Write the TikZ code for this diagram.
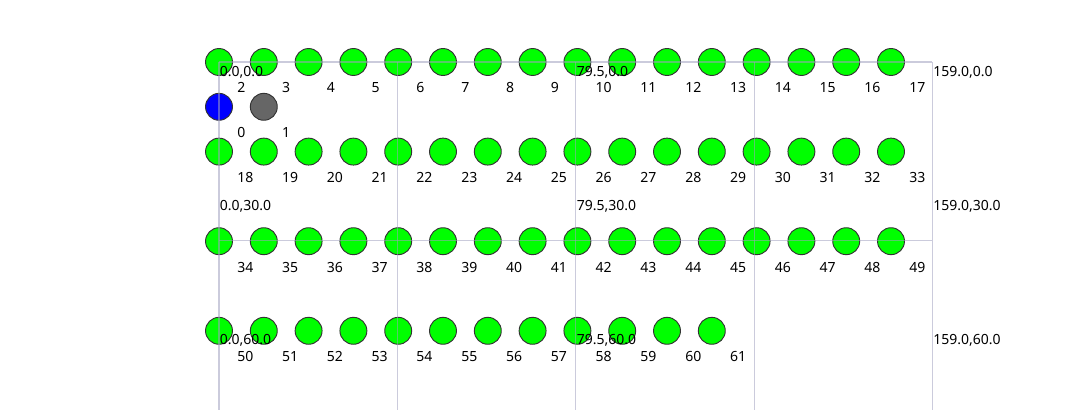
\documentclass[tikz,border=0pt]{standalone}
\usepackage{fontspec}
\setmainfont{Noto Sans}
\definecolor{gridink}{HTML}{A0A0C0}
\definecolor{slotgreen}{HTML}{00FF00}
\definecolor{slotblue}{HTML}{0000FF}
\definecolor{slotgrey}{HTML}{666666}
\definecolor{rim}{HTML}{333333}

\begin{document}
\begin{tikzpicture}[x=0.75pt,y=-0.75pt,font=\fontsize{10.5}{12}\selectfont,
  slot/.style={circle,draw=rim,line width=0.7pt,fill=slotgreen,
    minimum size=20.2pt,inner sep=0pt},
  idx/.style={anchor=base west,inner sep=0pt},
  spot/.style={anchor=base west,inner sep=0pt},
  gridln/.style={gridink,opacity=0.55,line width=1.1pt}]
  \useasboundingbox (0,0) rectangle (1084,410);
  % the two odd slots
  \node[slot,fill=slotblue] (n0) at (219,106.8) {};
  \node[slot,fill=slotgrey] (n1) at (263.8,106.8) {};
  % full rows
  \foreach \i in {0,...,15} {
    \pgfmathsetmacro\cx{219+44.8*\i}
    \node[slot] (n\the\numexpr\i+2\relax) at (\cx,62) {};
    \node[slot] (n\the\numexpr\i+18\relax) at (\cx,151.6) {};
    \node[slot] (n\the\numexpr\i+34\relax) at (\cx,241.2) {};
  }
  \foreach \i in {0,...,11} {
    \pgfmathsetmacro\cx{219+44.8*\i}
    \node[slot] (n\the\numexpr\i+50\relax) at (\cx,330.8) {};
  }
  % grid
  \foreach \gx in {219,397.3,575.7,754.3,932.3}
    \draw[gridln] (\gx,62) -- (\gx,410);
  \foreach \gy in {62,240.3}
    \draw[gridln] (219,\gy) -- (932.3,\gy);
  % slot numbers
  \node[idx] (l0) at (237,137.8) {0};
  \node[idx] (l1) at (281.8,137.8) {1};
  \foreach \i in {0,...,15} {
    \pgfmathsetmacro\cx{237+44.8*\i}
    \node[idx] (l\the\numexpr\i+2\relax) at (\cx,93) {\the\numexpr\i+2\relax};
    \node[idx] (l\the\numexpr\i+18\relax) at (\cx,182.6) {\the\numexpr\i+18\relax};
    \node[idx] (l\the\numexpr\i+34\relax) at (\cx,272.2) {\the\numexpr\i+34\relax};
  }
  \foreach \i in {0,...,11} {
    \pgfmathsetmacro\cx{237+44.8*\i}
    \node[idx] (l\the\numexpr\i+50\relax) at (\cx,361.8) {\the\numexpr\i+50\relax};
  }
  % grid positions
  \node[spot] (p00) at (219.5,76) {0.0,0.0};
  \node[spot] (p10) at (576.5,76) {79.5,0.0};
  \node[spot] (p20) at (933,76.5) {159.0,0.0};
  \node[spot] (p01) at (219.5,210.5) {0.0,30.0};
  \node[spot] (p11) at (576.5,210.5) {79.5,30.0};
  \node[spot] (p21) at (933,210.5) {159.0,30.0};
  \node[spot] (p02) at (219.5,344.5) {0.0,60.0};
  \node[spot] (p12) at (576.5,344.5) {79.5,60.0};
  \node[spot] (p22) at (933,344.5) {159.0,60.0};
\end{tikzpicture}
\end{document}
